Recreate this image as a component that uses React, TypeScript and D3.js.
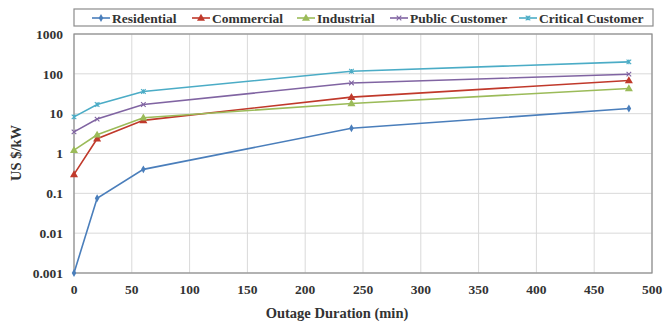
import React, { useEffect, useRef } from 'react';
import * as d3 from 'd3';

// outage duration in minutes
const durations = [0, 20, 60, 240, 480];

const residential = [0.001, 0.075, 0.4, 4.3, 13.5];
const commercial = [0.3, 2.35, 6.8, 26, 68];
const industrial = [1.22, 2.95, 7.9, 18, 43];
const publicCustomer = [3.5, 7.3, 17, 59, 98];
const criticalCustomer = [8.3, 17, 36, 116, 200];

const seriesNames = ['Residential', 'Commercial', 'Industrial', 'Public Customer', 'Critical Customer'];
const seriesValues = [residential, commercial, industrial, publicCustomer, criticalCustomer];
const seriesColors = ['#4a7ebb', '#c0392b', '#9bbb59', '#8064a2', '#4bacc6'];
const seriesMarkers = ['diamond', 'triangle', 'triangle', 'x', 'star'];

const xTicks = [0, 50, 100, 150, 200, 250, 300, 350, 400, 450, 500];
const yTicks = [0.001, 0.01, 0.1, 1, 10, 100, 1000];
const yTickLabels = ['0.001', '0.01', '0.1', '1', '10', '100', '1000'];

// legend item x positions (line start)
const legendX = [92, 192, 297, 390, 519];

const FONT = '"Liberation Serif", "DejaVu Serif", serif';

function drawMarker(g: any, kind: string, x: number, y: number, color: string) {
	if (kind === 'diamond') {
		g.append('path')
			.attr('d', d3.symbol().type(d3.symbolDiamond).size(18)())
			.attr('transform', `translate(${x},${y})`)
			.attr('fill', color);
	} else if (kind === 'triangle') {
		g.append('path')
			.attr('d', d3.symbol().type(d3.symbolTriangle).size(28)())
			.attr('transform', `translate(${x},${y + 0.5})`)
			.attr('fill', color);
	} else {
		const s = 2.3;
		let d = `M${-s},${-s}L${s},${s}M${-s},${s}L${s},${-s}`;
		if (kind === 'star') d += `M0,${-s}L0,${s}`;
		g.append('path')
			.attr('d', d)
			.attr('transform', `translate(${x},${y})`)
			.attr('stroke', color)
			.attr('stroke-width', 1.1)
			.attr('fill', 'none');
	}
}

export default function App() {
	const ref = useRef<SVGSVGElement>(null);

	useEffect(() => {
		const svg = d3.select(ref.current);
		svg.selectAll('*').remove();

		const left = 74, right = 652, top = 34, bottom = 273;

		const x = d3.scaleLinear().domain([0, 500]).range([left, right]);
		const y = d3.scaleLog().domain([0.001, 1000]).range([bottom, top]);

		svg.append('rect').attr('width', 663).attr('height', 328).attr('fill', '#fff');

		// gridlines
		const grid = svg.append('g').attr('stroke', '#d9d9d9').attr('stroke-width', 1);
		xTicks.forEach((t) => {
			grid.append('line')
				.attr('x1', x(t)).attr('x2', x(t))
				.attr('y1', top).attr('y2', bottom);
		});
		yTicks.forEach((t) => {
			grid.append('line')
				.attr('x1', left).attr('x2', right)
				.attr('y1', y(t)).attr('y2', y(t));
		});

		// plot frame
		svg.append('rect')
			.attr('x', left).attr('y', top)
			.attr('width', right - left).attr('height', bottom - top)
			.attr('fill', 'none')
			.attr('stroke', '#8c8c8c')
			.attr('stroke-width', 1.2);

		// tick labels
		const txt = svg.append('g')
			.style('font-family', FONT)
			.style('font-weight', 'bold')
			.style('font-size', '13.5px')
			.attr('fill', '#333');

		yTicks.forEach((t, i) => {
			txt.append('text')
				.attr('x', 63)
				.attr('y', y(t))
				.attr('dy', '0.35em')
				.attr('text-anchor', 'end')
				.text(yTickLabels[i]);
		});
		xTicks.forEach((t) => {
			txt.append('text')
				.attr('x', x(t))
				.attr('y', 294)
				.attr('text-anchor', 'middle')
				.text(t);
		});

		// axis titles
		txt.append('text')
			.attr('x', 337)
			.attr('y', 318)
			.attr('text-anchor', 'middle')
			.style('font-size', '14.5px')
			.text('Outage Duration (min)');
		txt.append('text')
			.attr('transform', 'translate(21,153) rotate(-90)')
			.attr('text-anchor', 'middle')
			.style('font-size', '14.5px')
			.text('US $/kW');

		// series
		const line = d3.line<number>()
			.x((d, i) => x(durations[i]))
			.y((d) => y(d));

		seriesValues.forEach((vals, si) => {
			const g = svg.append('g');
			g.append('path')
				.datum(vals)
				.attr('d', line)
				.attr('fill', 'none')
				.attr('stroke', seriesColors[si])
				.attr('stroke-width', 1.6);
			vals.forEach((v, i) => {
				drawMarker(g, seriesMarkers[si], x(durations[i]), y(v), seriesColors[si]);
			});
		});

		// legend
		svg.append('rect')
			.attr('x', 74).attr('y', 9)
			.attr('width', 579).attr('height', 17)
			.attr('fill', '#fff')
			.attr('stroke', '#8c8c8c')
			.attr('stroke-width', 1.2);

		seriesNames.forEach((name, si) => {
			const lx = legendX[si];
			const g = svg.append('g');
			g.append('line')
				.attr('x1', lx).attr('x2', lx + 18)
				.attr('y1', 18).attr('y2', 18)
				.attr('stroke', seriesColors[si])
				.attr('stroke-width', 1.6);
			drawMarker(g, seriesMarkers[si], lx + 9, 18, seriesColors[si]);
			g.append('text')
				.attr('x', lx + 20)
				.attr('y', 18)
				.attr('dy', '0.35em')
				.style('font-family', FONT)
				.style('font-weight', 'bold')
				.style('font-size', '13.5px')
				.attr('fill', '#333')
				.text(name);
		});
	}, []);

	return (
		<svg
			ref={ref}
			width={663}
			height={328}
			style={{ position: 'absolute', left: 0, top: 0 }}
		></svg>
	);
}
